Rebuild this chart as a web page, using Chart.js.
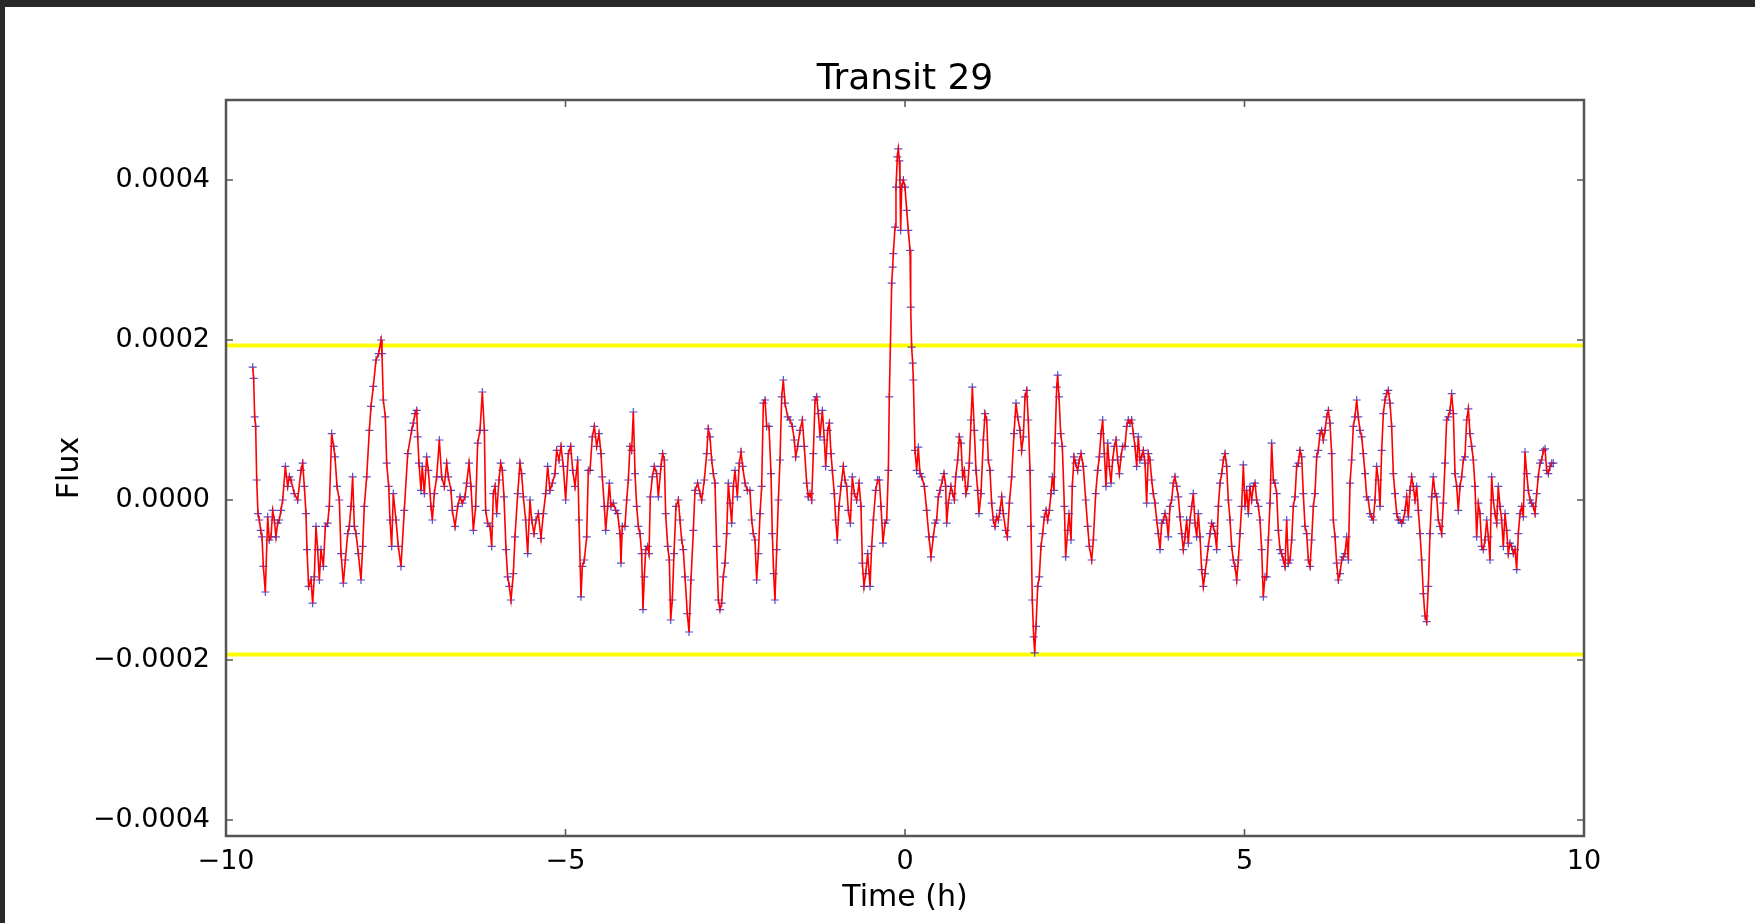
<!DOCTYPE html>
<html>
<head>
<meta charset="utf-8">
<title>Transit 29</title>
<script src="https://cdn.jsdelivr.net/npm/chart.js@4.4.1/dist/chart.umd.min.js"></script>
<style>
  html, body { margin: 0; padding: 0; background: #2a2a2a; width: 1755px; height: 923px; overflow: hidden; }
  #panel { position: absolute; left: 5px; top: 7px; width: 1750px; height: 916px; background: #fff; }
  canvas { display: block; }
</style>
</head>
<body>
<div id="panel"><canvas id="transit" width="1750" height="916"></canvas></div>
<script>
const chartTitle = 'Transit 29';
const xLabel = 'Time (h)';
const yLabel = 'Flux';

const timeTicks = [-10, -5, 0, 5, 10];
const fluxTicks = [-0.0004, -0.0002, 0, 0.0002, 0.0004];
const fluxRange = [-0.00042, 0.0005];
const thresholdPpm = [193, -193];

// time from mid-transit, hours
const timeH = [
  -9.607,-9.593,-9.578,-9.563,-9.548,-9.529,-9.509,-9.489,-9.470,-9.450,-9.421,
  -9.386,-9.362,-9.337,-9.313,-9.288,-9.264,-9.239,-9.215,-9.190,-9.165,
  -9.126,-9.092,-9.067,-9.043,-8.994,-8.945,-8.895,-8.871,-8.846,-8.822,
  -8.807,-8.783,-8.748,-8.724,-8.699,-8.675,-8.650,-8.625,-8.601,-8.566,
  -8.537,-8.503,-8.478,-8.444,-8.414,-8.395,-8.365,-8.331,-8.306,-8.272,
  -8.242,-8.208,-8.184,-8.159,-8.135,-8.110,-8.085,-8.051,-8.012,-7.987,
  -7.963,-7.928,-7.889,-7.864,-7.830,-7.791,-7.752,-7.717,-7.703,-7.683,
  -7.653,-7.634,-7.604,-7.585,-7.560,-7.536,-7.496,-7.462,-7.423,-7.374,
  -7.324,
  -7.266,-7.241,-7.217,-7.192,-7.177,-7.158,-7.128,-7.109,-7.079,-7.045,
  -7.020,-6.981,-6.961,-6.932,-6.897,-6.858,-6.824,-6.785,-6.750,-6.726,
  -6.686,-6.667,-6.627,-6.588,-6.554,-6.519,-6.480,-6.456,-6.421,-6.392,
  -6.357,-6.323,-6.294,-6.259,-6.225,-6.195,-6.176,-6.146,-6.112,-6.087,
  -6.063,-6.038,-6.014,-5.979,-5.955,-5.930,-5.906,-5.876,-5.852,-5.827,
  -5.803,-5.768,-5.744,-5.704,-5.670,-5.646,-5.621,-5.587,-5.557,-5.523,
  -5.498,-5.464,-5.434,-5.400,-5.361,-5.326,-5.292,-5.263,-5.228,-5.194,
  -5.155,-5.130,-5.096,-5.066,-5.032,-4.998,-4.958,-4.924,-4.894,-4.860,
  -4.821,
  -4.801,-4.772,-4.752,-4.723,-4.688,-4.664,-4.639,-4.605,-4.575,-4.541,
  -4.507,-4.477,-4.458,-4.428,-4.408,-4.379,-4.354,-4.330,-4.296,-4.261,
  -4.232,-4.197,-4.183,-4.163,-4.124,-4.099,-4.075,-4.050,-4.026,-4.001,
  -3.976,-3.952,-3.927,-3.903,-3.878,-3.859,-3.839,-3.819,-3.790,-3.770,
  -3.751,-3.721,-3.692,-3.657,-3.633,-3.594,-3.569,-3.544,-3.525,-3.495,
  -3.471,-3.451,-3.427,-3.402,-3.373,-3.338,-3.314,-3.289,-3.265,-3.240,
  -3.206,-3.181,-3.152,-3.117,-3.093,-3.054,-3.019,-2.995,-2.955,-2.921,
  -2.897,-2.872,-2.847,-2.823,-2.798,-2.774,-2.749,-2.725,-2.700,-2.676,
  -2.651,-2.626,-2.602,-2.577,-2.553,-2.528,-2.504,-2.469,-2.440,-2.415,
  -2.391,-2.356,-2.322,
  -2.283,-2.258,-2.234,-2.209,-2.185,-2.160,-2.135,-2.111,-2.086,-2.062,
  -2.037,-2.003,-1.973,-1.954,-1.934,-1.915,-1.890,-1.865,-1.841,-1.816,
  -1.792,-1.767,-1.728,-1.694,-1.659,-1.630,-1.610,-1.581,-1.546,-1.512,
  -1.483,-1.448,-1.424,-1.399,-1.375,-1.350,-1.325,-1.301,-1.276,-1.252,
  -1.217,-1.188,-1.168,-1.139,-1.114,-1.090,-1.070,-1.041,-1.021,-0.997,
  -0.972,-0.943,-0.908,-0.884,-0.859,-0.835,-0.805,-0.776,-0.746,-0.712,
  -0.677,-0.648,-0.628,-0.604,-0.579,-0.550,-0.515,-0.491,-0.466,-0.432,
  -0.403,-0.378,-0.353,-0.324,-0.295,-0.270,-0.245,-0.231,
  -0.196,-0.182,-0.172,-0.147,-0.133,-0.113,-0.098,-0.083,-0.074,-0.064,
  -0.049,-0.024,0.000,0.025,0.049,0.074,0.084,0.098,0.113,0.123,
  0.147,0.172,0.196,
  0.221,0.246,0.285,0.319,0.353,0.383,0.417,0.442,0.466,0.491,
  0.516,0.550,0.574,0.599,0.614,0.638,0.677,0.702,0.727,0.746,
  0.776,0.800,0.825,0.849,0.874,0.898,0.923,0.947,0.972,0.992,
  1.021,1.046,1.070,1.090,1.119,1.154,1.178,1.203,1.227,1.252,
  1.276,1.301,1.326,1.350,1.375,1.399,1.424,1.448,1.483,1.507,
  1.537,1.571,1.605,1.635,1.659,1.694,1.718,1.743,1.767,1.792,
  1.816,1.841,1.856,1.875,1.895,1.910,1.929,1.954,1.978,2.003,
  2.027,2.052,2.077,2.101,2.126,2.150,2.170,2.194,2.209,2.234,
  2.248,2.268,2.293,2.317,2.347,2.366,2.396,2.415,2.445,2.464,
  2.489,2.513,2.543,2.567,2.592,2.626,2.661,2.690,2.715,
  2.749,2.774,2.808,2.838,2.862,2.887,2.911,2.936,2.960,2.985,
  3.009,3.034,3.058,3.083,3.108,3.132,3.157,3.181,3.206,3.240,
  3.265,3.289,3.314,3.338,3.363,3.387,3.412,3.436,3.461,3.486,
  3.510,3.535,3.559,3.584,3.608,3.633,3.657,3.682,3.706,3.731,
  3.756,3.780,3.805,3.829,3.854,3.878,3.903,3.927,3.952,3.976,
  4.001,4.026,4.050,4.075,4.099,4.124,4.148,4.173,4.197,4.222,
  4.246,4.271,4.296,4.320,4.345,4.369,4.394,4.418,4.443,4.467,
  4.492,4.516,4.541,4.566,4.590,4.615,4.639,4.664,4.688,4.713,
  4.737,4.762,4.787,4.811,4.836,4.860,4.885,4.909,4.934,4.958,
  4.983,5.007,5.032,5.057,5.081,5.106,5.130,5.155,5.179,
  5.204,5.228,5.253,5.277,5.302,5.326,5.351,5.376,5.400,5.425,
  5.449,5.474,5.498,5.523,5.547,5.572,5.596,5.621,5.646,5.670,
  5.695,5.719,5.744,5.768,5.793,5.817,5.842,5.866,5.891,5.916,
  5.940,5.965,5.989,6.014,6.038,6.063,6.087,6.112,6.136,6.161,
  6.186,6.210,6.235,6.259,6.284,6.308,6.333,6.357,6.382,6.406,
  6.431,6.456,6.480,6.505,6.529,6.554,6.578,6.603,6.627,6.652,
  6.676,6.701,6.726,6.750,6.775,6.799,6.824,6.848,6.873,6.897,
  6.922,6.946,6.971,6.996,7.020,7.045,7.069,7.094,7.118,7.143,
  7.167,7.192,7.216,7.241,7.266,7.290,7.315,7.339,7.364,7.388,
  7.413,7.437,7.462,7.486,7.511,7.536,7.560,7.585,7.609,7.634,
  7.658,7.683,7.707,
  7.732,7.757,7.781,7.806,7.830,7.855,7.879,7.904,7.928,7.953,
  7.977,8.002,8.027,8.051,8.076,8.100,8.125,8.149,8.174,8.198,
  8.223,8.247,8.272,8.297,8.321,8.346,8.370,8.395,8.419,8.444,
  8.468,8.493,8.517,8.542,8.567,8.591,8.616,8.640,8.665,8.689,
  8.714,8.738,8.763,8.787,8.812,8.837,8.861,8.886,8.910,8.935,
  8.959,8.984,9.008,9.033,9.057,9.082,9.106,9.131,9.156,9.180,
  9.205,9.229,9.254,9.278,9.303,9.327,9.352,9.376,9.401,9.426,
  9.450,9.475,9.499,9.524,9.548
];

// relative flux, parts per million
const fluxPpm = [
  166,152,104,92,25,-17,-25,-38,-46,-83,-115,
  -21,-50,-46,-13,-25,-46,-29,-25,-13,0,
  42,17,29,25,8,0,37,46,17,-17,
  -62,-108,-100,-129,-96,-33,-62,-100,-62,-83,
  -33,-29,-8,83,67,54,17,0,-67,-104,
  -75,-42,-33,-8,29,-33,-42,-67,-100,-58,
  -8,29,87,117,142,175,183,200,183,125,
  104,46,17,-25,-58,8,-25,-58,-83,-13,
  58,
  87,96,108,112,79,46,12,42,8,54,
  37,-8,-25,8,29,75,29,17,46,29,
  12,-13,-33,-8,4,-4,4,21,46,17,
  -38,-8,71,87,135,87,-13,-29,-33,-58,
  8,17,-17,25,46,37,4,-62,-96,-108,
  -125,-92,-46,8,46,33,4,-25,-67,0,
  -25,-42,-25,-17,-48,-17,8,42,12,21,
  33,62,50,67,42,0,58,67,37,17,
  50,
  -25,-121,-83,-75,-46,37,37,79,92,67,
  83,58,29,-8,-38,-8,21,-8,-4,-13,
  -17,-42,-79,-33,-33,0,25,67,62,110,
  33,-8,-33,-42,-67,-137,-96,-62,-58,-67,
  4,29,42,33,4,42,58,50,-17,-58,
  -75,-150,-125,-67,-8,0,-25,-50,-62,-96,
  -142,-165,-100,-38,12,21,8,0,25,58,
  89,79,50,33,21,-58,-125,-137,-129,-96,
  -79,-42,21,-4,-29,17,37,4,46,60,
  42,21,12,
  12,-25,-42,-50,-100,-67,-17,17,121,125,
  92,92,33,-42,-92,-125,-62,0,50,129,
  150,121,104,100,92,75,54,67,87,100,
  67,21,4,8,0,58,125,129,108,79,
  112,75,42,87,96,58,37,8,-25,-50,
  -8,17,42,25,17,-13,-29,29,8,0,
  21,-8,-79,-108,-92,-67,-108,-58,-25,12,
  25,25,-8,-54,-29,-25,37,129,
  271,291,308,341,391,429,439,424,400,337,
  391,400,391,362,337,312,241,191,171,150,
  62,37,66,
  33,29,17,-13,-46,-71,-46,-29,-25,4,
  12,25,33,17,-29,-4,17,8,0,29,
  50,79,71,29,37,8,17,46,100,141,
  87,37,12,-17,8,75,108,100,50,37,
  -4,-25,-33,-21,-25,-13,4,-17,-38,-46,
  -4,29,83,121,104,87,62,79,129,137,
  100,37,-33,-125,-171,-191,-158,-108,-96,-58,
  -42,-21,-13,-25,-13,8,29,12,71,141,
  156,129,83,67,-8,-71,-38,-17,-50,17,
  54,46,37,50,58,42,0,-33,-58,
  -75,-50,8,37,54,83,100,58,17,71,
  42,21,50,67,75,50,33,54,67,67,
  92,100,96,100,83,67,42,79,50,54,
  62,46,-4,58,50,25,8,-4,-25,-42,
  -62,-29,-25,-17,-25,-46,-8,0,21,29,
  17,4,-21,-42,-62,-46,-25,-54,-25,-8,
  8,-29,-46,-17,-46,-87,-108,-92,-75,-58,
  -42,-29,-33,-42,-62,-8,21,33,50,58,
  42,0,-25,-58,-75,-83,-100,-75,-42,-8,
  44,-8,12,-17,17,0,17,21,0,
  -8,-25,-62,-121,-96,-96,-50,-4,71,25,
  21,8,-38,-62,-67,-75,-83,-25,-79,-75,
  -50,-8,4,42,46,62,54,8,-33,-42,
  -75,-83,-50,-8,8,54,62,83,87,75,
  87,104,112,96,58,-25,-46,-79,-100,-92,
  -75,-71,-67,-46,-75,21,50,92,104,125,
  104,87,79,58,33,4,0,-17,-21,-25,
  0,42,25,-8,62,108,125,133,137,121,
  92,33,8,-17,-25,-25,-29,-25,-13,4,
  -21,12,29,17,0,17,-13,-42,-75,-117,
  -145,-152,-108,
  -42,4,29,8,4,-25,-33,-42,-4,46,
  100,104,112,133,108,33,17,-13,17,29,
  50,54,100,114,83,67,50,17,-46,-4,
  -17,-58,-62,-50,-25,-46,-75,29,0,-17,
  -29,17,-8,-25,-58,-17,-38,-67,-54,-58,
  -67,-62,-87,-42,-17,-8,-21,60,33,12,
  0,-4,-8,-17,8,29,46,50,62,64,
  37,33,42,46,46
];

const points = timeH.map((t, i) => ({ x: t, y: fluxPpm[i] / 1e6 }));
const thresholdSets = thresholdPpm.map(p => ({
  type: 'line',
  data: [{ x: timeTicks[0], y: p / 1e6 }, { x: timeTicks[timeTicks.length - 1], y: p / 1e6 }],
  borderColor: '#ffff00',
  borderWidth: 4,
  pointRadius: 0,
  order: 3
}));

const fontFamily = '"DejaVu Sans", sans-serif';
const minusSign = s => s.replace('-', '\u2212');

// matplotlib-style frame: box with inward ticks on every side, plus title and axis labels
const axesFrame = {
  id: 'axesFrame',
  afterDatasetsDraw(chart) {
    const { ctx, chartArea: a, scales } = chart;
    ctx.save();
    ctx.strokeStyle = '#555';
    ctx.lineWidth = 2.5;
    ctx.strokeRect(a.left, a.top, a.right - a.left, a.bottom - a.top);

    ctx.lineWidth = 1.5;
    ctx.beginPath();
    timeTicks.forEach(t => {
      const x = scales.x.getPixelForValue(t);
      ctx.moveTo(x, a.bottom); ctx.lineTo(x, a.bottom - 7);
      ctx.moveTo(x, a.top); ctx.lineTo(x, a.top + 7);
    });
    fluxTicks.forEach(v => {
      const y = scales.y.getPixelForValue(v);
      ctx.moveTo(a.left, y); ctx.lineTo(a.left + 7, y);
      ctx.moveTo(a.right, y); ctx.lineTo(a.right - 7, y);
    });
    ctx.stroke();

    ctx.fillStyle = '#000';
    ctx.textAlign = 'center';
    ctx.textBaseline = 'middle';
    ctx.font = '36px ' + fontFamily;
    ctx.fillText(chartTitle, (a.left + a.right) / 2, a.top - 20);

    ctx.font = '30px ' + fontFamily;
    ctx.fillText(xLabel, (a.left + a.right) / 2, a.bottom + 62);

    ctx.translate(a.left - 156, (a.top + a.bottom) / 2);
    ctx.rotate(-Math.PI / 2);
    ctx.fillText(yLabel, 0, 0);
    ctx.restore();
  }
};

new Chart(document.getElementById('transit'), {
  type: 'scatter',
  data: {
    datasets: [
      {
        type: 'line',
        data: points,
        borderColor: '#ff0000',
        borderWidth: 1.6,
        pointRadius: 0,
        tension: 0,
        order: 1
      },
      {
        data: points,
        pointStyle: 'cross',
        pointRadius: 4,
        borderColor: 'rgba(50, 50, 200, 0.85)',
        backgroundColor: 'rgba(50, 50, 200, 0.85)',
        borderWidth: 1.2,
        order: 2
      },
      ...thresholdSets
    ]
  },
  options: {
    responsive: false,
    animation: false,
    devicePixelRatio: 1,
    layout: { padding: { left: 0, top: 93, right: 171, bottom: 0 } },
    plugins: {
      legend: { display: false },
      tooltip: { enabled: false }
    },
    scales: {
      x: {
        type: 'linear',
        min: timeTicks[0],
        max: timeTicks[timeTicks.length - 1],
        afterBuildTicks: s => { s.ticks = timeTicks.map(v => ({ value: v })); },
        afterFit: s => { s.height = 87; },
        grid: { display: false },
        border: { display: false },
        ticks: {
          color: '#000',
          padding: 2,
          maxRotation: 0,
          font: { family: fontFamily, size: 27 },
          callback: v => minusSign(String(v))
        }
      },
      y: {
        type: 'linear',
        min: fluxRange[0],
        max: fluxRange[1],
        afterBuildTicks: s => { s.ticks = fluxTicks.map(v => ({ value: v })); },
        afterFit: s => { s.width = 221; },
        grid: { display: false },
        border: { display: false },
        ticks: {
          color: '#000',
          padding: 8,
          font: { family: fontFamily, size: 27 },
          callback: v => minusSign(v.toFixed(4))
        }
      }
    }
  },
  plugins: [axesFrame]
});
</script>
</body>
</html>
